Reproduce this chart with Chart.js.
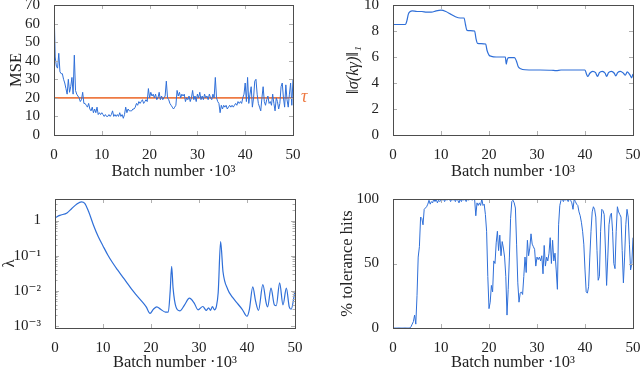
<!DOCTYPE html>
<html>
<head>
<meta charset="utf-8">
<script src="https://cdn.jsdelivr.net/npm/chart.js@4.4.1/dist/chart.umd.min.js"></script>
<style>
  html, body { margin: 0; padding: 0; background: #fff; }
  #fig { position: relative; width: 640px; height: 369px; }
  #fig canvas { position: absolute; }
</style>
</head>
<body>
<div id="fig">
  <canvas id="mse" width="320" height="184" style="left:0;top:0"></canvas>
  <canvas id="sigma" width="320" height="184" style="left:320px;top:0"></canvas>
  <canvas id="lambda" width="320" height="185" style="left:0;top:184px"></canvas>
  <canvas id="hits" width="320" height="185" style="left:320px;top:184px"></canvas>
</div>
<script>
// batch axis (in thousands)
const batchTicks = [0, 10, 20, 30, 40, 50];
const sampleStep = 0.25; // MSE and hit-rate are sampled every 250 batches

const mseValues = [
  70,42,37,36,44,34,33,33,30,28,25,22,30,23,26,31,22,43,24,22,
  21,20,18,19,23,17,17,16,15,17,14,13,15,12,14,12,15,11,12,11,
  12,11,10,11,10,10,11,10,11,13,10,11,10,11,10,12,10,11,9,11,
  15,12,14,13,13,13,14,14,15,17,16,18,17,18,19,17,18,19,18,25,
  20,23,21,22,20,22,19,20,23,19,21,19,20,21,29,20,19,17,16,15,
  14,15,16,24,21,23,20,22,21,22,18,20,19,21,18,20,24,19,21,18,
  22,20,23,19,21,19,22,20,21,19,22,20,19,22,20,31,20,18,17,12,
  16,14,16,15,16,14,15,16,15,16,15,16,17,16,18,17,18,17,20,22,
  28,18,31,17,22,26,15,20,29,30,22,17,15,13,20,26,18,16,19,21,
  17,18,16,22,17,13,20,18,14,17,26,28,20,15,27,19,15,22,28,16,
  30
];
const tau = 20;

const hitValues = [
  0,0,0,0,0,0,0,0,0,0,0,0,0,0,0,1,3,5,10,3,
  25,55,63,86,85,80,92,93,94,96,99,96,98,97,100,98,100,97,99,98,
  100,99,100,98,100,99,100,100,98,100,99,100,98,100,99,97,100,98,100,99,
  100,98,100,99,100,100,99,100,100,87,97,95,97,95,100,95,96,88,75,40,
  15,20,33,28,52,50,66,75,60,72,56,67,62,55,40,10,30,55,85,98,
  99,97,93,65,35,20,27,28,26,40,55,43,68,56,62,73,65,63,61,48,
  55,53,55,52,56,42,64,48,55,52,58,70,50,68,52,58,45,30,80,95,
  99,100,98,100,99,100,98,100,99,97,92,100,98,96,95,90,87,82,75,65,
  45,28,27,32,55,75,90,94,92,86,60,37,40,75,92,91,88,62,33,55,
  80,87,89,75,50,46,75,94,90,88,86,60,35,55,80,92,86,65,45,50,
  70
];

const sigmaBatch = [0,2.6,2.9,3.2,3.6,4,5,6,7,8,9,10,11,12,13,14,14.8,15.1,15.4,17,17.3,17.6,
  19.3,19.6,20,20.5,21.5,23.4,23.6,23.8,24.1,25.3,25.7,26.1,26.6,27.5,30,33,34,35,40,
  40.3,40.6,41,41.6,42.2,42.6,43,43.6,44.2,44.5,44.9,45.5,46.1,46.4,46.8,47.4,48,48.4,48.8,49.4,49.7,50];
const sigmaValues = [8.5,8.5,8.8,9.3,9.5,9.55,9.5,9.5,9.45,9.45,9.55,9.6,9.5,9.3,9.1,9.0,9.0,8.5,8.05,8.0,7.4,7.05,
  7.0,6.5,6.15,6.05,6.0,6.0,5.45,5.8,5.95,5.95,5.7,5.25,5.1,5.02,5.0,4.98,4.95,5.0,5.0,
  4.7,4.5,4.75,4.9,4.8,4.5,4.8,4.9,4.75,4.5,4.8,4.9,4.75,4.55,4.8,4.9,4.75,4.6,4.85,4.6,4.4,4.7];

const lambdaBatch = [0,1,2.5,3.5,4.5,5.5,6.2,7,8,9,10,11,12,13,14,15,16,17,18,19,19.8,20.5,21.2,22,23,23.6,
  24,24.3,24.6,25.2,26,27,28,29,29.8,30.8,31.5,32,32.4,32.8,33.2,33.6,34,34.5,35,36,37,38,39,40,
  40.5,41.2,41.8,42.4,43.3,44,44.3,45,45.7,46.1,46.8,47.5,48.2,48.8,49.2,50];
const lambdaValues = [1.2,1.4,1.65,2.2,2.9,3.4,3.1,1.8,0.75,0.35,0.19,0.105,0.063,0.04,0.026,0.017,0.011,0.0075,0.0052,0.0035,0.0023,0.003,0.0035,0.003,0.0025,0.0025,
  0.01,0.05,0.012,0.0035,0.0027,0.004,0.0062,0.0045,0.0029,0.0036,0.0028,0.0033,0.0028,0.0036,0.0029,0.0035,0.009,0.25,0.035,0.011,0.0065,0.0044,0.003,0.0019,
  0.003,0.013,0.005,0.0028,0.015,0.0045,0.0035,0.012,0.004,0.0038,0.017,0.004,0.012,0.0035,0.003,0.01];
const lambdaTickValues = [0.001, 0.01, 0.1, 1];
const lambdaTickLabels = ['10⁻³', '10⁻²', '10⁻¹', '1'];

const FONT = "'Liberation Serif', 'DejaVu Serif', serif";
const TICK_SIZE = 15;
const TITLE_SIZE = 16.5;
const textColor = '#222222';
const lineBlue = '#2f6fd8';
const tauOrange = '#ee7a43';
const frameColor = '#4d4d4d';
const tickColor = '#b0b0b0';

function xy(xs, ys) { return ys.map((y, i) => ({ x: xs[i], y })); }
function stepped(ys) { return ys.map((y, i) => ({ x: i * sampleStep, y })); }

// pgfplots-like box with inward ticks on all four sides
const frame = {
  id: 'frame',
  afterDatasetsDraw(chart, args, opts) {
    const { ctx, chartArea: a } = chart;
    const xs = chart.scales.x, ys = chart.scales.y;
    const seg = (x1, y1, x2, y2) => { ctx.beginPath(); ctx.moveTo(x1, y1); ctx.lineTo(x2, y2); ctx.stroke(); };
    ctx.save();
    ctx.lineWidth = 1;
    ctx.strokeStyle = tickColor;
    xs.ticks.forEach(t => {
      const p = Math.round(xs.getPixelForValue(t.value)) + 0.5;
      seg(p, a.bottom, p, a.bottom - 4);
      seg(p, a.top, p, a.top + 4);
    });
    ys.ticks.forEach(t => {
      const p = Math.round(ys.getPixelForValue(t.value)) + 0.5;
      seg(a.left, p, a.left + 4, p);
      seg(a.right, p, a.right - 4, p);
    });
    (opts.minor || []).forEach(v => {
      if (v < ys.min || v > ys.max) return;
      const p = Math.round(ys.getPixelForValue(v)) + 0.5;
      seg(a.left, p, a.left + 2.5, p);
      seg(a.right, p, a.right - 2.5, p);
    });
    ctx.strokeStyle = frameColor;
    ctx.strokeRect(Math.round(a.left) + 0.5, Math.round(a.top) + 0.5, Math.round(a.width), Math.round(a.height));
    ctx.restore();
  }
};

const tauLabel = {
  id: 'tauLabel',
  afterDatasetsDraw(chart) {
    const { ctx, chartArea: a } = chart;
    const p = chart.scales.y.getPixelForValue(tau);
    ctx.save();
    ctx.fillStyle = tauOrange;
    ctx.font = `italic 18px ${FONT}`;
    ctx.textBaseline = 'middle';
    ctx.fillText('τ', a.right + 8, p - 1);
    ctx.restore();
  }
};

function tickOpts(extra) {
  return Object.assign({ color: textColor, font: { family: FONT, size: TICK_SIZE }, padding: 6, autoSkip: false, maxRotation: 0 }, extra);
}

function xAxis(h, titleBottom) {
  return {
    type: 'linear', min: 0, max: 50,
    afterBuildTicks: s => { s.ticks = batchTicks.map(v => ({ value: v })); },
    afterFit: s => { s.height = h; s.paddingLeft = 0; s.paddingRight = 0; },
    grid: { display: false }, border: { display: false },
    ticks: tickOpts({ padding: 3 }),
    title: { display: true, text: 'Batch number ·10³', color: textColor,
      font: { family: FONT, size: TITLE_SIZE, lineHeight: 1 }, padding: { top: 0, bottom: titleBottom } }
  };
}

function yAxis(w, title, titlePad, extra, style) {
  return Object.assign({
    afterFit: s => { s.width = w; s.paddingTop = 0; s.paddingBottom = 0; },
    grid: { display: false }, border: { display: false },
    title: { display: true, text: title, color: textColor,
      font: { family: FONT, size: TITLE_SIZE, lineHeight: 1, style: style || 'normal' }, padding: { top: titlePad, bottom: 0 } }
  }, extra);
}

function line(data, color, width, smooth) {
  return {
    data, borderColor: color, borderWidth: width, pointRadius: 0, fill: false,
    tension: 0, cubicInterpolationMode: smooth ? 'monotone' : 'default'
  };
}

function panel(id, box, datasets, scales, plugins, frameOpts) {
  new Chart(document.getElementById(id), {
    type: 'line',
    data: { datasets },
    options: {
      responsive: false, animation: false, events: [],
      layout: { padding: { left: 0, top: box.top, right: box.right, bottom: 0 } },
      plugins: { legend: { display: false }, tooltip: { enabled: false }, frame: frameOpts || {} },
      scales
    },
    plugins: [frame].concat(plugins || [])
  });
}

// MSE
panel('mse', { top: 5, right: 27 },
  [line(stepped(mseValues), lineBlue, 1, false),
   line([{ x: 0, y: tau }, { x: 50, y: tau }], tauOrange, 1.6, false)],
  { x: xAxis(49, 4), y: yAxis(54, 'MSE', 8, { min: 0, max: 70, ticks: tickOpts({ stepSize: 10 }) }) },
  [tauLabel]);

// sigma
panel('sigma', { top: 5, right: 7 },
  [line(xy(sigmaBatch, sigmaValues), lineBlue, 1.2, true)],
  { x: xAxis(49, 4), y: yAxis(73, '‖σ(kγ)‖₁', 25, { min: 0, max: 10, ticks: tickOpts({ stepSize: 2 }) }, 'italic') });

// lambda
const lambdaMinor = [];
lambdaTickValues.forEach(d => { for (let k = 2; k <= 9; k++) lambdaMinor.push(k * d); });
panel('lambda', { top: 15, right: 25 },
  [line(xy(lambdaBatch, lambdaValues), lineBlue, 1.2, true)],
  { x: xAxis(41, -2), y: yAxis(55, 'λ', 1, {
      type: 'logarithmic', min: 0.00088, max: 4.1,
      afterBuildTicks: s => { s.ticks = lambdaTickValues.map(v => ({ value: v })); },
      ticks: tickOpts({ callback: (v, i) => lambdaTickLabels[i] })
    }) },
  [], { minor: lambdaMinor });

// hit rate
panel('hits', { top: 15, right: 7 },
  [line(stepped(hitValues), lineBlue, 1, false)],
  { x: xAxis(41, -2), y: yAxis(73, '% tolerance hits', 19, { min: 0, max: 100, ticks: tickOpts({ stepSize: 50 }) }) });
</script>
</body>
</html>
